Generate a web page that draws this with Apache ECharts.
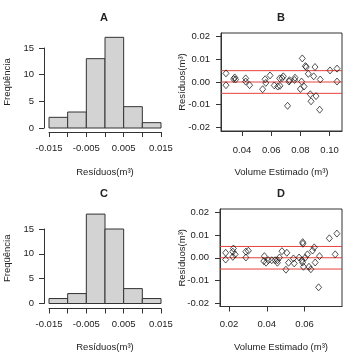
<!DOCTYPE html>
<html>
<head>
<meta charset="utf-8">
<script src="https://cdn.jsdelivr.net/npm/echarts@6/dist/echarts.min.js"></script>
<style>
  html, body { margin: 0; padding: 0; background: #fff; }
  #chart { width: 353px; height: 353px; }
</style>
</head>
<body>
<div id="chart"></div>
<script>
// histogram bins (Resíduos, m³)
const binEdges = [-0.015, -0.01, -0.005, 0, 0.005, 0.01, 0.015]
const countsA = [2, 3, 13, 17, 4, 1]
const countsC = [1, 2, 18, 15, 3, 1]

// residuals vs estimated volume, panel B
const xB = [0.029, 0.029, 0.0343, 0.0350, 0.0356, 0.0425, 0.0425, 0.0452, 0.0541, 0.0558,
  0.0563, 0.0592, 0.0621, 0.0645, 0.0658, 0.0660, 0.0674, 0.0683, 0.0712, 0.0722,
  0.0725, 0.0760, 0.0763, 0.0800, 0.0808, 0.0813, 0.0825, 0.0834, 0.0840, 0.0854,
  0.0868, 0.0873, 0.0891, 0.0900, 0.0907, 0.0932, 0.0936, 0.1003, 0.1051, 0.1051]
const yB = [0.0038, -0.0014, 0.0013, 0.0020, 0.0011, 0.0016, 0.0002, -0.0014, -0.0032, 0.0012,
  -0.0004, 0.0029, -0.0015, -0.0020, 0.0016, -0.0017, 0.0017, 0.0025, -0.0105, 0.0002,
  0.0008, 0.0009, 0.0019, -0.0031, 0.0002, 0.0104, -0.0020, 0.0070, 0.0066, 0.0036,
  -0.0054, -0.0085, 0.0025, 0.0066, -0.0062, -0.0122, 0.0011, 0.0051, 0.0059, 0.0002]

// panel D
const xD = [0.0182, 0.0182, 0.0223, 0.0220, 0.0232, 0.0220, 0.0289, 0.0302, 0.0289, 0.0387,
  0.0384, 0.0396, 0.0408, 0.0426, 0.0444, 0.0456, 0.0456, 0.0467, 0.0480, 0.0501,
  0.0506, 0.0515, 0.0541, 0.0545, 0.0571, 0.0586, 0.0589, 0.0590, 0.0591, 0.0594,
  0.0603, 0.0615, 0.0623, 0.0633, 0.0642, 0.0651, 0.0656, 0.0674, 0.0679, 0.0731,
  0.0762, 0.0771]
const yD = [0.0022, -0.0008, 0.0041, 0.0027, 0.0015, 0.0004, 0.0027, 0.0031, 0.0001, 0.0007,
  -0.0015, -0.0022, -0.0011, -0.0011, -0.0011, -0.0022, -0.0011, 0.0001, 0.0029, -0.0053,
  0.0022, -0.0022, -0.0003, -0.0025, 0.0001, -0.0011, -0.0021, 0.0069, 0.0062, -0.0040,
  0.0000, 0.0015, -0.0040, -0.0051, 0.0032, 0.0046, -0.0021, -0.0131, 0.0007, 0.0086,
  0.0015, 0.0107]

// reference lines and tick labels
const refLines = [0.005, 0, -0.005]
const residTicks = [-0.02, -0.01, 0, 0.01, 0.02]
const volTicksB = [0.04, 0.06, 0.08, 0.10]
const volTicksD = [0.02, 0.04, 0.06]

const font = 'Liberation Sans, Arial, sans-serif'
const ink = '#222'
const txt = { color: ink, fontSize: 9.5, fontFamily: font }

function histData(counts) {
  return counts.map((c, i) => [binEdges[i], binEdges[i + 1], c])
}

function histSeries(idx, counts) {
  return {
    type: 'custom',
    xAxisIndex: idx,
    yAxisIndex: idx,
    data: histData(counts),
    encode: { x: [0, 1], y: 2 },
    clip: false,
    renderItem: (params, api) => {
      const p0 = api.coord([api.value(0), 0])
      const p1 = api.coord([api.value(1), api.value(2)])
      return {
        type: 'rect',
        shape: { x: p0[0], y: p1[1], width: p1[0] - p0[0], height: p0[1] - p1[1] },
        style: { fill: '#d3d3d3', stroke: '#333', lineWidth: 1 }
      }
    }
  }
}

function scatterSeries(idx, xs, ys) {
  return {
    type: 'scatter',
    xAxisIndex: idx,
    yAxisIndex: idx,
    data: xs.map((x, i) => [x, ys[i]]),
    symbol: 'diamond',
    symbolSize: [6, 7],
    itemStyle: { color: 'rgba(255,255,255,0)', borderColor: '#111', borderWidth: 0.9 },
    z: 3
  }
}

// horizontal red reference lines across the whole box
function refSeries(idx, xmin, xmax) {
  return refLines.map(v => ({
    type: 'line',
    xAxisIndex: idx,
    yAxisIndex: idx,
    data: [[xmin, v], [xmax, v]],
    symbol: 'none',
    silent: true,
    lineStyle: { color: '#e8413b', width: 1 },
    z: 2
  }))
}

const axisBase = {
  axisLine: { show: true, onZero: false, lineStyle: { color: '#333', width: 1 } },
  axisTick: { show: true, length: 5, lineStyle: { color: '#333' } },
  splitLine: { show: false },
  nameMoveOverlap: false,
  nameTextStyle: txt
}

const histX = (idx, offset, margin, gap) => ({
  ...axisBase,
  type: 'value',
  gridIndex: idx,
  min: -0.015,
  max: 0.015,
  interval: 0.005,
  offset: offset,
  name: 'Resíduos(m³)',
  nameLocation: 'middle',
  nameGap: gap,
  axisLabel: {
    ...txt,
    margin: margin,
    formatter: v => (Math.round(v / 0.005) % 2 !== 0 ? v.toFixed(3) : '')
  }
})

const histY = (idx, shift) => ({
  ...axisBase,
  type: 'value',
  gridIndex: idx,
  min: 0,
  max: 15,
  interval: 5,
  offset: 5,
  name: 'Freqüência',
  nameLocation: 'middle',
  nameRotate: 90,
  nameGap: 32,
  nameTextStyle: { ...txt, padding: [0, 0, 0, shift] },
  axisLabel: { ...txt, margin: 10 }
})

const scatX = (idx, min, max, ticks, margin, gap) => ({
  ...axisBase,
  type: 'value',
  gridIndex: idx,
  min: min,
  max: max,
  name: 'Volume Estimado (m³)',
  nameLocation: 'middle',
  nameGap: gap,
  axisTick: { ...axisBase.axisTick, customValues: ticks },
  axisLabel: { ...txt, margin: margin, customValues: ticks, formatter: v => v.toFixed(2) }
})

const scatY = (idx, gap) => ({
  ...axisBase,
  type: 'value',
  gridIndex: idx,
  min: -0.0216,
  max: 0.0216,
  name: 'Resíduos(m³)',
  nameLocation: 'middle',
  nameRotate: 90,
  nameGap: gap,
  axisTick: { ...axisBase.axisTick, customValues: residTicks },
  axisLabel: { ...txt, margin: 11, customValues: residTicks, formatter: v => v.toFixed(2) }
})

const titleStyle = { color: ink, fontSize: 11, fontWeight: 'bold', fontFamily: font }

const option = {
  animation: false,
  backgroundColor: '#fff',
  title: [
    { text: 'A', left: 104, top: 12.5, textAlign: 'center', padding: 0, textStyle: titleStyle },
    { text: 'B', left: 281, top: 12.5, textAlign: 'center', padding: 0, textStyle: titleStyle },
    { text: 'C', left: 104, top: 188.5, textAlign: 'center', padding: 0, textStyle: titleStyle },
    { text: 'D', left: 281, top: 188.5, textAlign: 'center', padding: 0, textStyle: titleStyle }
  ],
  grid: [
    { left: 49, top: 48, width: 112, height: 80 },
    { left: 221, top: 33, width: 121, height: 98, show: true, borderColor: '#333', borderWidth: 1 },
    { left: 49, top: 229, width: 112, height: 75 },
    { left: 220, top: 209, width: 122, height: 98, show: true, borderColor: '#333', borderWidth: 1 }
  ],
  xAxis: [
    histX(0, 4, 11.5, 35),
    scatX(1, 0.0256, 0.1085, volTicksB, 14, 36),
    histX(2, 5, 11, 33.5),
    scatX(3, 0.0152, 0.0798, volTicksD, 13, 35.5)
  ],
  yAxis: [
    histY(0, 12),
    scatY(1, 34),
    histY(2, 16),
    scatY(3, 33)
  ],
  series: [
    histSeries(0, countsA),
    ...refSeries(1, 0.0256, 0.1085),
    scatterSeries(1, xB, yB),
    histSeries(2, countsC),
    ...refSeries(3, 0.0152, 0.0798),
    scatterSeries(3, xD, yD)
  ]
}

const chart = echarts.init(document.getElementById('chart'))
chart.setOption(option)
</script>
</body>
</html>
